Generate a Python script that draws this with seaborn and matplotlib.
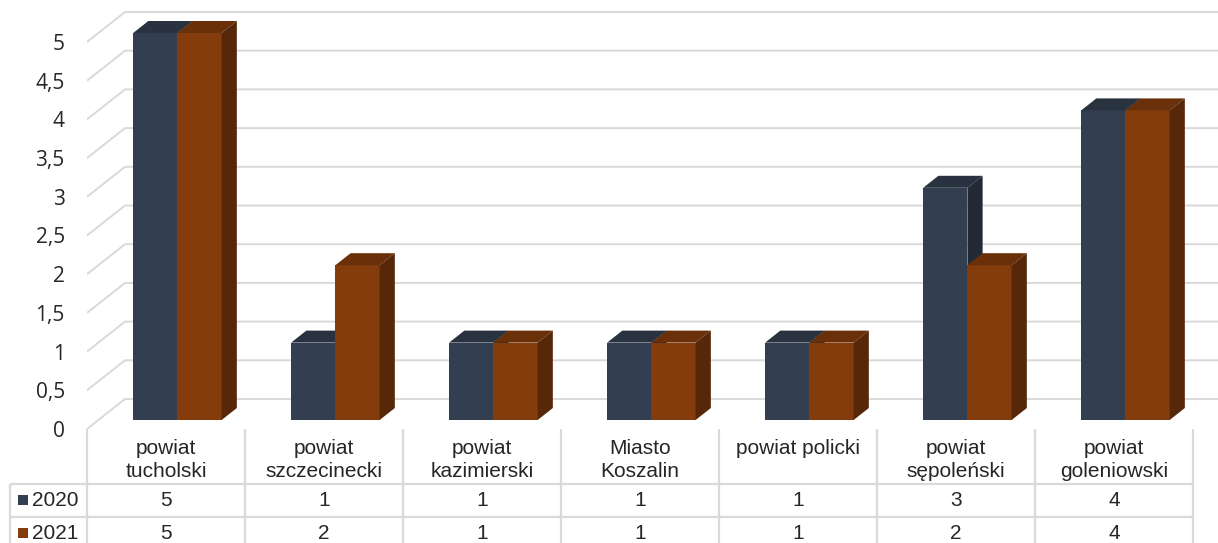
import matplotlib
matplotlib.use('Agg')
import matplotlib.pyplot as plt
from matplotlib.patches import Polygon, Rectangle
import seaborn as sns
import pandas as pd
import numpy as np

categories = ['powiat\ntucholski', 'powiat\nszczecinecki', 'powiat\nkazimierski',
              'Miasto\nKoszalin', 'powiat policki', 'powiat\nsępoleński',
              'powiat\ngoleniowski']
years = ['2020', '2021']
values_2020 = [5, 1, 1, 1, 1, 3, 4]
values_2021 = [5, 2, 1, 1, 1, 2, 4]
y_ticks = [0, 0.5, 1, 1.5, 2, 2.5, 3, 3.5, 4, 4.5, 5]

front_colors = {'2020': '#333f50', '2021': '#843c0c'}
top_colors = {'2020': '#29323f', '2021': '#6a300a'}
side_colors = {'2020': '#222a35', '2021': '#562708'}
grid_color = '#d9d9d9'

df = pd.DataFrame({
    'cat': categories * 2,
    'year': ['2020'] * len(categories) + ['2021'] * len(categories),
    'value': values_2020 + values_2021,
})

W, H = 1218, 543
X0 = 87          # left edge of the front plane (px)
FLOOR = 429      # floor line of the front plane (px)
PX_CAT = 158     # px per category
PX_VAL = 77.4    # px per unit
DX = 38 / PX_CAT # full depth offset in data units
DY = 30 / PX_VAL
D0, D1 = 0.3, 0.7  # bar depth range

sns.set_style('white')
plt.rcParams['font.family'] = ['Liberation Sans', 'DejaVu Sans']

fig = plt.figure(figsize=(W / 100, H / 100), dpi=100)
ax = fig.add_axes([X0 / W, (H - FLOOR) / H, (W - X0) / W, FLOOR / H])

sns.barplot(data=df, x='cat', y='value', hue='year', palette=front_colors,
            width=0.56, saturation=1, legend=False, ax=ax, edgecolor='none')

xmax = -0.5 + (W - X0) / PX_CAT
# back wall grid lines with the diagonal on the left side wall
for v in y_ticks:
    ax.plot([-0.5, -0.5 + DX, xmax + 1], [v, v + DY, v + DY],
            color=grid_color, lw=1.4, zorder=1, solid_capstyle='butt')

# turn flat bars into boxes
for j, (year, cont) in enumerate(zip(years, ax.containers)):
    for i, rect in enumerate(cont.patches):
        x, w, h = rect.get_x(), rect.get_width(), rect.get_height()
        x = x + D0 * DX
        y0 = D0 * DY
        rect.set_x(x)
        rect.set_y(y0)
        z = 3 + j * 0.5
        rect.set_zorder(z)
        top = h + y0
        ddx, ddy = (D1 - D0) * DX, (D1 - D0) * DY
        ax.add_patch(Polygon([(x, top), (x + ddx, top + ddy), (x + w + ddx, top + ddy), (x + w, top)],
                             closed=True, facecolor=top_colors[year], edgecolor='none', zorder=z + 0.1))
        ax.add_patch(Polygon([(x + w, y0), (x + w, top), (x + w + ddx, top + ddy), (x + w + ddx, y0 + ddy)],
                             closed=True, facecolor=side_colors[year], edgecolor='none', zorder=z + 0.1))

ax.set_xlim(-0.5, xmax)
ax.set_ylim(0, FLOOR / PX_VAL)
ax.set_xticks([])
ax.set_yticks(y_ticks)
ax.set_yticklabels([f'{v:g}'.replace('.', ',') for v in y_ticks],
                   fontsize=15, color='#262626', family=['Open Sans', 'DejaVu Sans'])
ax.tick_params(axis='y', length=0, pad=16)
ax.set_xlabel('')
ax.set_ylabel('')
for s in ax.spines.values():
    s.set_visible(False)

# data table under the chart, y in pixel rows
tax = fig.add_axes([0, 0, 1, (H - FLOOR) / H])
tax.set_xlim(-0.5 - X0 / PX_CAT, xmax)
tax.set_ylim(H, FLOOR)
tax.axis('off')


def px2x(p):
    return -0.5 + (p - X0) / PX_CAT


n = len(categories)
row_y = [500, 533]
line_kw = dict(color=grid_color, lw=1.6, solid_capstyle='butt')
for k in range(n + 1):
    tax.plot([-0.5 + k, -0.5 + k], [FLOOR, H], **line_kw)
for yl in [484, 517]:
    tax.plot([px2x(10), -0.5 + n], [yl, yl], **line_kw)
tax.plot([px2x(10), px2x(10)], [484, H], **line_kw)

for i, cat in enumerate(categories):
    tax.text(i, 439, cat, ha='center', va='top', fontsize=15, linespacing=1.28)
    tax.text(i, row_y[0], str(values_2020[i]), ha='center', va='center', fontsize=15)
    tax.text(i, row_y[1], str(values_2021[i]), ha='center', va='center', fontsize=15)

for year, yr in zip(years, row_y):
    tax.add_patch(Rectangle((px2x(18), yr - 5), 10 / PX_CAT, 10,
                            facecolor=front_colors[year], edgecolor='none'))
    tax.text(px2x(32), yr, year, ha='left', va='center', fontsize=15)

fig.savefig('out.png', dpi=100)
